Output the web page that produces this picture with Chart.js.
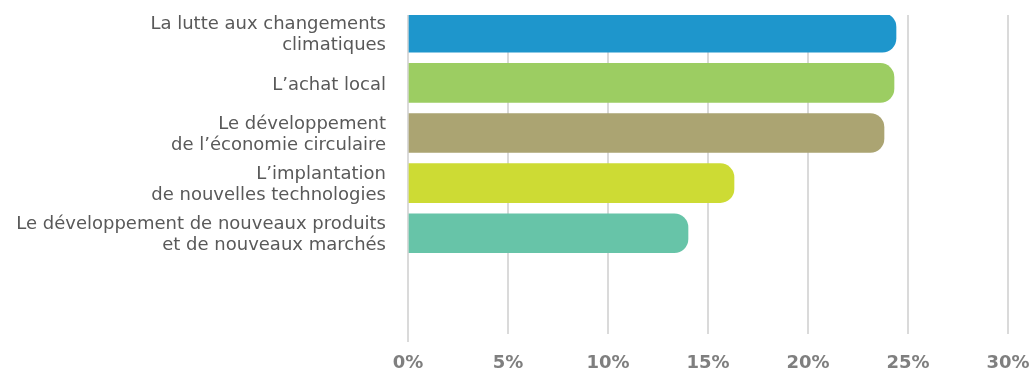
<!DOCTYPE html>
<html lang="fr">
<head>
	<meta charset="UTF-8">
	<title>Priorités</title>
	<script src="https://cdn.jsdelivr.net/npm/chart.js@4/dist/chart.umd.min.js"></script>
	<style>
		html, body { margin: 0; padding: 0; background: #fff; }
		#wrap { width: 1036px; height: 370px; }
	</style>
</head>
<body>
	<div id="wrap"><canvas id="barChart"></canvas></div>

	<script>
	// categories (multi-line labels as arrays)
	var categories = [
		["La lutte aux changements", "climatiques"],
		"L\u2019achat local",
		["Le développement", "de l\u2019économie circulaire"],
		["L\u2019implantation", "de nouvelles technologies"],
		["Le développement de nouveaux produits", "et de nouveaux marchés"]
	];
	var values = [24.4, 24.3, 23.8, 16.3, 14.0];
	var barColors = ["#1e96cc", "#9ccd62", "#aba472", "#cddb34", "#67c4a8"];
	var xTicks = [0, 5, 10, 15, 20, 25, 30];

	// one point per category, y is the row index
	var points = [];
	for (var i = 0; i < values.length; i++) {
		points.push({ x: values[i], y: i });
	}

	var ctx = document.getElementById('barChart').getContext('2d');

	var myChart = new Chart(ctx, {
		type: 'bar',
		data: {
			datasets: [{
				data: points,
				backgroundColor: barColors,
				barThickness: 39,
				borderRadius: 14,
				borderSkipped: 'start'
			}]
		},
		options: {
			indexAxis: 'y',
			responsive: true,
			maintainAspectRatio: false,
			animation: false,
			layout: { padding: { top: 15, right: 28, left: 0, bottom: 0 } },
			plugins: {
				legend: { display: false },
				tooltip: { enabled: false }
			},
			scales: {
				x: {
					type: 'linear',
					min: 0,
					max: 30,
					afterBuildTicks: function(scale) {
						scale.ticks = xTicks.map(function(v) { return { value: v }; });
					},
					afterFit: function(scale) {
						scale.height = 36;
						scale.paddingLeft = 0;
						scale.paddingRight = 0;
					},
					grid: {
						color: '#dadada',
						lineWidth: 2,
						drawTicks: true,
						tickLength: 8,
						tickColor: function(c) { return c.index === 0 ? '#dadada' : 'rgba(0,0,0,0)'; }
					},
					border: { display: false },
					ticks: {
						padding: 11,
						color: '#7f7f7f',
						font: { family: 'DejaVu Sans', size: 18, weight: 'bold' },
						callback: function(v) { return v + '%'; }
					}
				},
				y: {
					type: 'linear',
					bounds: 'data',
					offset: false,
					reverse: true,
					min: -0.355,
					max: 6.01,
					afterBuildTicks: function(scale) {
						scale.ticks = categories.map(function(c, i) { return { value: i }; });
					},
					afterFit: function(scale) {
						scale.width = 408;
						// labels sit well inside the plot, no extra room needed
						scale.paddingTop = 0;
						scale.paddingBottom = 0;
					},
					grid: { display: false },
					border: { display: false },
					ticks: {
						padding: 14,
						labelOffset: 2,
						color: '#595959',
						autoSkip: false,
						font: { family: 'DejaVu Sans', size: 18, lineHeight: 1.17 },
						callback: function(v) { return categories[v]; }
					}
				}
			}
		}
	});
	</script>
</body>
</html>
